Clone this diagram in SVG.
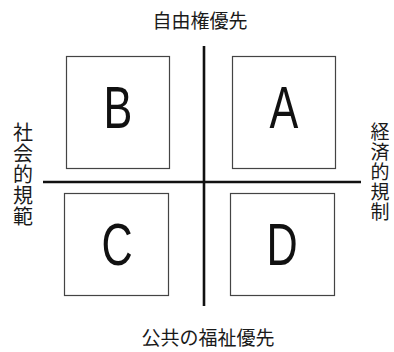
<svg xmlns="http://www.w3.org/2000/svg" width="394" height="352" viewBox="0 0 394 352">
<style>
.box{fill:#fff;stroke:#444;stroke-width:1.2}
.axis{stroke:#111;stroke-width:2.6;fill:none}
.lbl{font-family:"Noto Sans CJK JP","Noto Sans CJK SC",sans-serif;fill:#1a1a1a;text-anchor:middle}
.vert{font-family:"Noto Sans CJK JP","Noto Sans CJK SC",sans-serif;fill:#1a1a1a;writing-mode:vertical-rl;letter-spacing:1px}
.big{font-family:"Liberation Sans",Arial,sans-serif;font-size:60px;fill:#111;text-anchor:middle}
</style>
<rect width="394" height="352" fill="#fff"/>
<g id="connectors">
<line class="axis" x1="204" y1="46" x2="204" y2="306"/>
<line class="axis" x1="43" y1="182" x2="361" y2="182"/>
</g>
<g id="nodeB"><rect class="box" x="66.5" y="56.5" width="103" height="112"/><text class="big" transform="translate(118,128) scale(0.72,1)">B</text></g>
<g id="nodeA"><rect class="box" x="232.5" y="56.5" width="103" height="112"/><text class="big" transform="translate(284,128) scale(0.72,1)">A</text></g>
<g id="nodeC"><rect class="box" x="64.5" y="193.5" width="104" height="102"/><text class="big" transform="translate(117,265) scale(0.72,1)">C</text></g>
<g id="nodeD"><rect class="box" x="230.5" y="193.5" width="104" height="102"/><text class="big" transform="translate(282,265) scale(0.72,1)">D</text></g>
<g id="top"><text class="lbl" x="200" y="28" font-size="19">自由権優先</text></g>
<g id="bottom"><text class="lbl" x="208" y="345" font-size="19">公共の福祉優先</text></g>
<g id="left"><text class="vert" x="23" y="122" font-size="20">社会的規範</text></g>
<g id="right"><text class="vert" x="380" y="122" font-size="19">経済的規制</text></g>
</svg>
